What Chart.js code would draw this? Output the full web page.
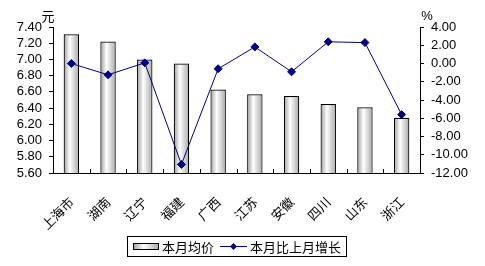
<!DOCTYPE html>
<html>
<head>
<meta charset="utf-8">
<script src="https://cdn.jsdelivr.net/npm/chart.js@4"></script>
<style>
  html, body { margin: 0; padding: 0; background: #fff; }
  #wrap { width: 485px; height: 266px; }
</style>
</head>
<body>
<div id="wrap"><canvas id="priceChart" width="485" height="266"></canvas></div>
<script>
const provinces = ['上海市', '湖南', '辽宁', '福建', '广西', '江苏', '安徽', '四川', '山东', '浙江'];
const avgPrice = [7.31, 7.22, 7.00, 6.95, 6.63, 6.57, 6.55, 6.45, 6.41, 6.28];
const monthChange = [0.0, -1.24, 0.07, -11.06, -0.58, 1.82, -0.91, 2.38, 2.29, -5.6];
const priceTicks = { min: 5.6, max: 7.4, step: 0.2 };
const changeTicks = { min: -12, max: 4, step: 2 };

const cjk = '"Noto Sans CJK SC", sans-serif';
const num = '"Liberation Sans", Arial, sans-serif';

function barGradient(ctx, left, right) {
  const g = ctx.createLinearGradient(left, 0, right, 0);
  g.addColorStop(0, '#9c9c9c');
  g.addColorStop(0.4, '#ffffff');
  g.addColorStop(1, '#a8a8a8');
  return g;
}

// inward ticks on the category axis, axis titles and the framed legend
const extras = {
  id: 'extras',
  afterDraw(chart) {
    const ctx = chart.ctx;
    const area = chart.chartArea;
    const step = (area.right - area.left) / provinces.length;
    ctx.save();
    ctx.strokeStyle = '#000';
    ctx.lineWidth = 1;
    for (let k = 1; k < provinces.length; k++) {
      const px = Math.round(area.left + step * k) + 0.5;
      ctx.beginPath();
      ctx.moveTo(px, area.bottom);
      ctx.lineTo(px, area.bottom - 4);
      ctx.stroke();
    }

    ctx.fillStyle = '#000';
    ctx.font = '13px ' + cjk;
    ctx.textAlign = 'center';
    ctx.textBaseline = 'bottom';
    ctx.fillText('元', area.left - 5, area.top - 4);
    ctx.font = '13px ' + num;
    ctx.fillText('%', area.right + 7, area.top - 4);

    // legend
    const lx = 127.5, ly = 236.5, lw = 219, lh = 20;
    ctx.strokeRect(lx, ly, lw, lh);
    ctx.fillStyle = barGradient(ctx, 133, 159);
    ctx.fillRect(133, 243, 26, 7);
    ctx.strokeRect(133.5, 243.5, 25, 6);
    ctx.fillStyle = '#000';
    ctx.font = '13px ' + cjk;
    ctx.textAlign = 'left';
    ctx.textBaseline = 'middle';
    ctx.fillText(chart.data.datasets[0].label, 162, 247);
    ctx.strokeStyle = '#000080';
    ctx.beginPath();
    ctx.moveTo(220, 246.5);
    ctx.lineTo(247, 246.5);
    ctx.stroke();
    ctx.fillStyle = '#000080';
    ctx.beginPath();
    ctx.moveTo(233.5, 243);
    ctx.lineTo(237, 246.5);
    ctx.lineTo(233.5, 250);
    ctx.lineTo(230, 246.5);
    ctx.closePath();
    ctx.fill();
    ctx.fillStyle = '#000';
    ctx.fillText(chart.data.datasets[1].label, 250, 247);
    ctx.restore();
  }
};

const priceCtx = document.getElementById('priceChart').getContext('2d');

const priceChart = new Chart(priceCtx, {
  type: 'bar',
  data: {
    labels: provinces,
    datasets: [{
      type: 'bar',
      label: '本月均价',
      data: avgPrice,
      yAxisID: 'y',
      order: 2,
      borderColor: '#000',
      borderWidth: 1.2,
      barPercentage: 0.42,
      categoryPercentage: 1,
      backgroundColor(c) {
        const chart = c.chart;
        if (!chart.chartArea || c.dataIndex === undefined) return '#ddd';
        const cx = chart.scales.x.getPixelForValue(c.dataIndex);
        const hw = (chart.chartArea.right - chart.chartArea.left) / provinces.length * 0.42 / 2;
        return barGradient(chart.ctx, cx - hw, cx + hw);
      }
    }, {
      type: 'line',
      label: '本月比上月增长',
      data: monthChange,
      yAxisID: 'y1',
      order: 1,
      borderColor: '#000080',
      borderWidth: 1,
      pointStyle: 'rectRot',
      pointRadius: 4,
      pointBackgroundColor: '#000080',
      pointBorderColor: '#000080',
      tension: 0
    }]
  },
  options: {
    responsive: false,
    animation: false,
    layout: { padding: { top: 27, left: 0, right: 0, bottom: 0 } },
    plugins: {
      legend: { display: false },
      tooltip: { enabled: false }
    },
    scales: {
      x: {
        grid: { display: false },
        border: { color: '#000', width: 1 },
        ticks: {
          color: '#000',
          font: { family: cjk, size: 13 },
          minRotation: 45,
          maxRotation: 45,
          autoSkip: false,
          padding: 13
        },
        afterFit(s) { s.height = 93; }
      },
      y: {
        position: 'left',
        min: priceTicks.min,
        max: priceTicks.max,
        grid: { drawOnChartArea: false, tickLength: 4, color: '#000' },
        border: { color: '#000', width: 1 },
        ticks: {
          stepSize: priceTicks.step,
          autoSkip: false,
          color: '#000',
          font: { family: num, size: 13 },
          padding: 7,
          callback: v => v.toFixed(2)
        },
        afterFit(s) { s.width = 53; }
      },
      y1: {
        position: 'right',
        min: changeTicks.min,
        max: changeTicks.max,
        grid: { drawOnChartArea: false, tickLength: 4, color: '#000' },
        border: { color: '#000', width: 1 },
        ticks: {
          stepSize: changeTicks.step,
          autoSkip: false,
          color: '#000',
          font: { family: num, size: 13 },
          padding: 7,
          callback: v => v.toFixed(2)
        },
        afterFit(s) { s.width = 65; }
      }
    }
  },
  plugins: [extras]
});
</script>
</body>
</html>
